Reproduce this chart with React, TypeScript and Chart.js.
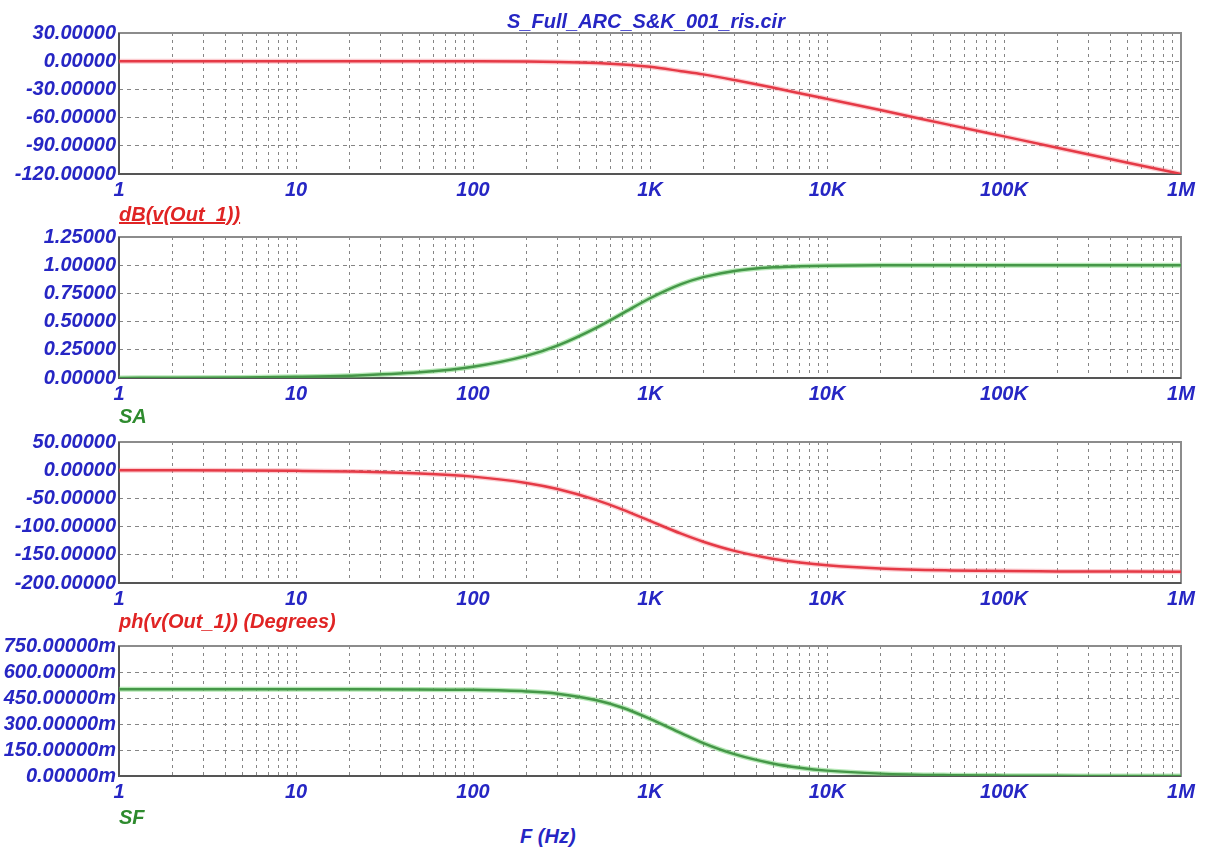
import React, { useEffect, useRef } from 'react';
import { Chart, registerables } from 'chart.js';

Chart.register(...registerables);

// ---------- data ----------
const freqs = [1, 2, 5, 10, 20, 50, 100, 200, 300, 500, 700, 1000, 1500, 2000, 3000, 5000, 7000, 10000, 20000, 50000, 100000, 200000, 500000, 1000000];
const dbValues = [0, 0, 0, 0, 0, -0.02, -0.09, -0.34, -0.75, -1.94, -3.47, -6.02, -10.6, -14.0, -20.0, -28.3, -34.0, -40.1, -52.0, -68.0, -80.0, -92.0, -108.0, -120.0];
const saValues = [0.001, 0.002, 0.005, 0.01, 0.02, 0.05, 0.0995, 0.196, 0.287, 0.447, 0.573, 0.707, 0.832, 0.894, 0.949, 0.981, 0.99, 0.995, 0.999, 1, 1, 1, 1, 1];
const phValues = [-0.11, -0.23, -0.57, -1.15, -2.29, -5.72, -11.4, -22.6, -33.4, -53.1, -70.0, -90.0, -112.6, -126.9, -143.1, -157.4, -163.7, -168.6, -174.3, -177.7, -178.9, -179.4, -179.8, -179.9];
const sfValues = [0.5, 0.5, 0.5, 0.5, 0.4999, 0.4996, 0.497, 0.488, 0.475, 0.437, 0.394, 0.33, 0.247, 0.19, 0.126, 0.071, 0.048, 0.031, 0.0137, 0.0046, 0.002, 0.0009, 0.0003, 0.0001];

const dbTicks = [30, 0, -30, -60, -90, -120];
const saTicks = [1.25, 1, 0.75, 0.5, 0.25, 0];
const phTicks = [50, 0, -50, -100, -150, -200];
const sfTicks = [0.75, 0.6, 0.45, 0.3, 0.15, 0];

const xDecades = [1, 10, 100, 1000, 10000, 100000, 1000000];
const xDecadeLabels = ['1', '10', '100', '1K', '10K', '100K', '1M'];
const xMinorSteps = [2, 3, 4, 5, 6, 7, 8, 9];

const titleText = 'S_Full_ARC_S&K_001_ris.cir';
const xAxisTitle = 'F (Hz)';

// ---------- styling ----------
const FONT_FAMILY = "'Liberation Sans', Arial, sans-serif";
const BLUE = '#2626c4';
const RED_TEXT = '#e02424';
const GREEN_TEXT = '#2e8b2e';
const LEFT = 119;
const RIGHT_PAD = 25;
const PAD_TOP = 15;
const XAXIS_H = 40;
const W = 1206;

type PanelDef = {
  top: number;
  bottom: number;
  values: number[];
  ticks: number[];
  fmt: (v: number) => string;
  core: string;
  halo: string;
};

const panels: PanelDef[] = [
  { top: 33, bottom: 174, values: dbValues, ticks: dbTicks, fmt: (v) => v.toFixed(5), core: '#dc1f2c', halo: 'rgba(245,110,120,0.35)' },
  { top: 237, bottom: 378, values: saValues, ticks: saTicks, fmt: (v) => v.toFixed(5), core: '#1d5c22', halo: 'rgba(110,210,110,0.5)' },
  { top: 442, bottom: 583, values: phValues, ticks: phTicks, fmt: (v) => v.toFixed(5), core: '#dc1f2c', halo: 'rgba(245,110,120,0.35)' },
  { top: 646, bottom: 776, values: sfValues, ticks: sfTicks, fmt: (v) => (v * 1000).toFixed(5) + 'm', core: '#1d5c22', halo: 'rgba(110,210,110,0.5)' },
];

const seriesLabels = [
  { text: 'dB(v(Out_1))', color: RED_TEXT, top: 204, left: 119, underline: true },
  { text: 'SA', color: GREEN_TEXT, top: 406, left: 119, underline: false },
  { text: 'ph(v(Out_1)) (Degrees)', color: RED_TEXT, top: 611, left: 119, underline: false },
  { text: 'SF', color: GREEN_TEXT, top: 807, left: 119, underline: false },
];

const xGridValues: number[] = [];
xDecades.forEach((d, i) => {
  xGridValues.push(d);
  if (i < xDecades.length - 1) xMinorSteps.forEach((m) => xGridValues.push(d * m));
});

const borderPlugin = {
  id: 'plotBorder',
  beforeDatasetsDraw(chart: any) {
    const { ctx, chartArea: a } = chart;
    ctx.save();
    ctx.setLineDash([]);
    ctx.lineWidth = 2;
    ctx.strokeStyle = '#8c8c8c';
    ctx.strokeRect(a.left, a.top, a.right - a.left, a.bottom - a.top);
    ctx.strokeStyle = '#555555';
    ctx.beginPath();
    ctx.moveTo(a.left, a.top);
    ctx.lineTo(a.left, a.bottom);
    ctx.lineTo(a.right, a.bottom);
    ctx.stroke();
    ctx.restore();
  },
};

function Panel({ p }: { p: PanelDef }) {
  const ref = useRef<HTMLCanvasElement | null>(null);
  const height = p.bottom - p.top + PAD_TOP + XAXIS_H;
  useEffect(() => {
    if (!ref.current) return;
    const pts = freqs.map((f, i) => ({ x: f, y: p.values[i] }));
    const font = { family: FONT_FAMILY, size: 20, style: 'italic' as const, weight: 'bold' as const };
    const chart = new Chart(ref.current, {
      type: 'line',
      data: {
        datasets: [
          { data: pts, borderColor: p.halo, borderWidth: 5, pointRadius: 0, cubicInterpolationMode: 'monotone', fill: false },
          { data: pts, borderColor: p.core, borderWidth: 2.5, pointRadius: 0, cubicInterpolationMode: 'monotone', fill: false },
        ],
      },
      options: {
        animation: false,
        responsive: false,
        maintainAspectRatio: false,
        layout: { padding: { top: PAD_TOP, right: RIGHT_PAD, left: 0, bottom: 0 } },
        plugins: { legend: { display: false }, tooltip: { enabled: false }, title: { display: false } },
        scales: {
          x: {
            type: 'logarithmic',
            min: 1,
            max: 1000000,
            afterBuildTicks: (s: any) => {
              s.ticks = xGridValues.map((v) => ({ value: v }));
            },
            afterFit: (s: any) => {
              s.height = XAXIS_H;
            },
            ticks: {
              autoSkip: false,
              maxRotation: 0,
              minRotation: 0,
              padding: 4,
              color: BLUE,
              font,
              callback: (v: any) => {
                const i = xDecades.indexOf(Number(v));
                return i >= 0 ? xDecadeLabels[i] : '';
              },
            },
            grid: { color: '#858585', lineWidth: 1, drawTicks: false },
            border: { display: false, dash: [3, 4] },
          },
          y: {
            type: 'linear',
            min: p.ticks[p.ticks.length - 1],
            max: p.ticks[0],
            afterBuildTicks: (s: any) => {
              s.ticks = p.ticks.slice().reverse().map((v) => ({ value: v }));
            },
            afterFit: (s: any) => {
              s.width = LEFT;
            },
            ticks: {
              autoSkip: false,
              color: BLUE,
              font,
              padding: 3,
              callback: (v: any) => p.fmt(Number(v)),
            },
            grid: { color: '#858585', lineWidth: 1, drawTicks: false },
            border: { display: false, dash: [4, 4] },
          },
        },
      },
      plugins: [borderPlugin],
    } as any);
    return () => chart.destroy();
  }, []);
  return (
    <canvas
      ref={ref}
      width={W}
      height={height}
      style={{ position: 'absolute', left: 0, top: p.top - PAD_TOP, width: W, height }}
    />
  );
}

export default function App() {
  const textBase: React.CSSProperties = {
    position: 'absolute',
    fontFamily: FONT_FAMILY,
    fontSize: 20,
    fontWeight: 'bold',
    fontStyle: 'italic',
    lineHeight: '20px',
    whiteSpace: 'nowrap',
  };
  return (
    <div style={{ position: 'absolute', left: 0, top: 0, width: W, height: 852, background: '#ffffff', overflow: 'hidden' }}>
      {panels.map((p, i) => (
        <Panel key={i} p={p} />
      ))}
      <div style={{ ...textBase, left: 507, top: 11, color: BLUE }}>{titleText}</div>
      {seriesLabels.map((s, i) => (
        <div
          key={i}
          style={{ ...textBase, left: s.left, top: s.top, color: s.color, textDecoration: s.underline ? 'underline' : 'none' }}
        >
          {s.text}
        </div>
      ))}
      <div style={{ ...textBase, left: 520, top: 826, color: BLUE }}>{xAxisTitle}</div>
    </div>
  );
}
